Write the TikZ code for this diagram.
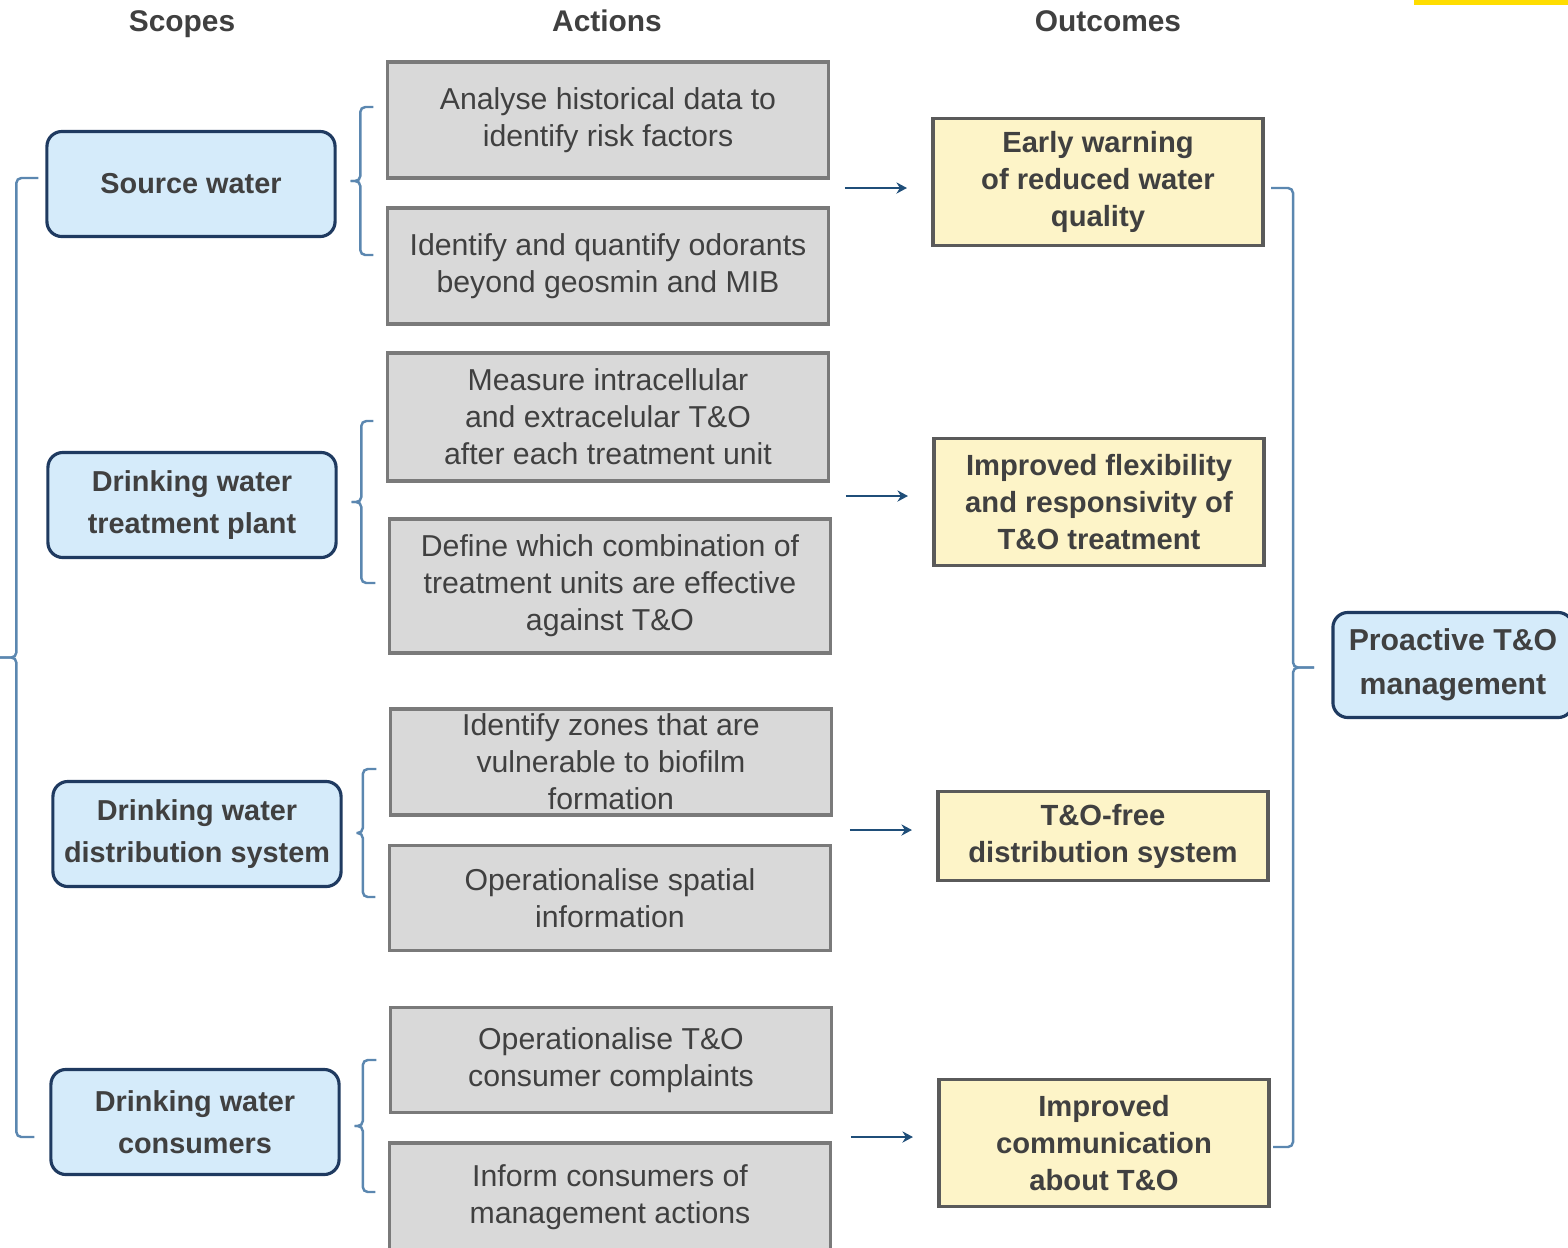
\documentclass[tikz,border=0pt]{standalone}
\usepackage{fontspec}
\setmainfont{Liberation Sans}
\usetikzlibrary{arrows.meta, positioning, calc}

\definecolor{scopefill}{HTML}{D5EBFA}
\definecolor{scopeline}{HTML}{1F3A60}
\definecolor{actfill}{HTML}{D9D9D9}
\definecolor{actline}{HTML}{7A7A7A}
\definecolor{outfill}{HTML}{FDF4C8}
\definecolor{outborder}{HTML}{5A5A5A}
\definecolor{txtgray}{HTML}{404040}
\definecolor{brkblue}{HTML}{5B87B0}
\definecolor{arrblue}{HTML}{1F4E79}
\definecolor{baryellow}{HTML}{FFDD00}

\begin{document}
\begin{tikzpicture}[x=0.01cm, y=-0.01cm, >={Stealth[length=3pt, width=3.2pt]},
  head/.style={text=txtgray, anchor=base, font=\bfseries\fontsize{8.5}{10}\selectfont},
  scopebox/.style={draw=scopeline, fill=scopefill, line width=0.9pt, rounded corners=0.15cm,
    minimum width=2.88cm, minimum height=1.05cm, inner sep=0pt, align=center,
    text=txtgray, font=\bfseries\fontsize{8.2}{12}\selectfont},
  actbox/.style={draw=actline, fill=actfill, line width=0.9pt, minimum width=4.40cm,
    inner sep=0pt, align=center, text=txtgray, font=\fontsize{8.6}{10.5}\selectfont},
  outbox/.style={draw=outborder, fill=outfill, line width=1.1pt, minimum width=3.30cm,
    inner sep=0pt, align=center, text=txtgray, font=\bfseries\fontsize{8.3}{10.5}\selectfont},
  brk/.style={draw=brkblue, line width=0.7pt, rounded corners=0.05cm},
  arr/.style={draw=arrblue, line width=0.7pt, ->}]
  \clip (0,0) rectangle (1568,1247);
  \fill[baryellow] (1414,0) rectangle (1568,5);

  % column heads
  \node[head] (hscope) at (182,31) {Scopes};
  \node[head] (hact) at (607,31) {Actions};
  \node[head] (hout) at (1108,31) {Outcomes};

  % scopes
  \node[scopebox] (src) at (191,184) {Source water};
  \node[scopebox] (dwtp) at (192,505) {Drinking water\\treatment plant};
  \node[scopebox] (dwds) at (197,834) {Drinking water\\distribution system};
  \node[scopebox] (cons) at (195,1122) {Drinking water\\consumers};

  % actions
  \node[actbox, minimum height=1.16cm] (anl) at (608,120) {Analyse historical data to\\identify risk factors};
  \node[actbox, minimum height=1.16cm] (odr) at (608,266) {Identify and quantify odorants\\beyond geosmin and MIB};
  \node[actbox, minimum height=1.28cm] (msr) at (608,417) {Measure intracellular\\and extracelular T\&O\\after each treatment unit};
  \node[actbox, minimum height=1.34cm] (cmb) at (610,586) {Define which combination of\\treatment units are effective\\against T\&O};
  \node[actbox, minimum height=1.06cm] (zon) at (611,762) {Identify zones that are\\vulnerable to biofilm\\formation};
  \node[actbox, minimum height=1.05cm] (spt) at (610,898) {Operationalise spatial\\information};
  \node[actbox, minimum height=1.05cm] (cpl) at (611,1060) {Operationalise T\&O\\consumer complaints};
  \node[actbox, minimum height=1.08cm] (inf) at (610,1197) {Inform consumers of\\management actions};

  % outcomes
  \node[outbox, minimum height=1.27cm] (ew) at (1098,182) {Early warning\\of reduced water\\quality};
  \node[outbox, minimum height=1.27cm] (flx) at (1099,502) {Improved flexibility\\and responsivity of\\T\&O treatment};
  \node[outbox, minimum height=0.89cm] (tof) at (1103,836) {T\&O-free\\distribution system};
  \node[outbox, minimum height=1.27cm] (com) at (1104,1143) {Improved\\communication\\about T\&O};

  \node[scopebox, minimum width=2.40cm, font=\bfseries\fontsize{8.6}{12.5}\selectfont] (ptm) at (1453,665) {Proactive T\&O\\management};

  % brackets scope -> actions
  \foreach \s/\a/\b/\dt/\db in {src/anl/odr/-13/-11, dwtp/msr/cmb/4/-3, dwds/zon/spt/7/-1, cons/cpl/inf/0/-5} {
    \coordinate (t) at ($(\a.west)+(-13,\dt)$);
    \coordinate (b) at ($(\b.west)+(-13,\db)$);
    \coordinate (m) at ($(t)!.5!(b)+(-13,0)$);
    \coordinate (p) at ($(\s.east)+(14,0)$);
    \draw[brk] (t) -| (m) -- (m -| p);
    \draw[brk] (b) -| (m) -- (m -| p);
  }

  % big bracket round the scopes
  \coordinate (lt) at ($(src.west)+(-7,-6)$);
  \coordinate (lb) at ($(cons.west)+(-15,15)$);
  \coordinate (lm) at ($(lt)!.5!(lb)+(-20,0)$);
  \draw[brk] (lt) -| (lm) -- ++(-20,0);
  \draw[brk] (lb) -| (lm) -- ++(-20,0);

  % big bracket round the outcomes
  \coordinate (rt) at ($(ew.east)+(6,6)$);
  \coordinate (rb) at ($(com.east)+(2,4)$);
  \coordinate (rm) at ($(rt)!.5!(rb)+(21,0)$);
  \draw[brk] (rt) -| (rm) -- ++(21,0);
  \draw[brk] (rb) -| (rm) -- ++(21,0);

  % arrows actions -> outcomes
  \foreach \o/\dy in {ew/6, flx/-6, tof/-6, com/-6}
    \draw[arr] ($(\o.west)+(-86,\dy)$) -- ($(\o.west)+(-24,\dy)$);
\end{tikzpicture}
\end{document}
